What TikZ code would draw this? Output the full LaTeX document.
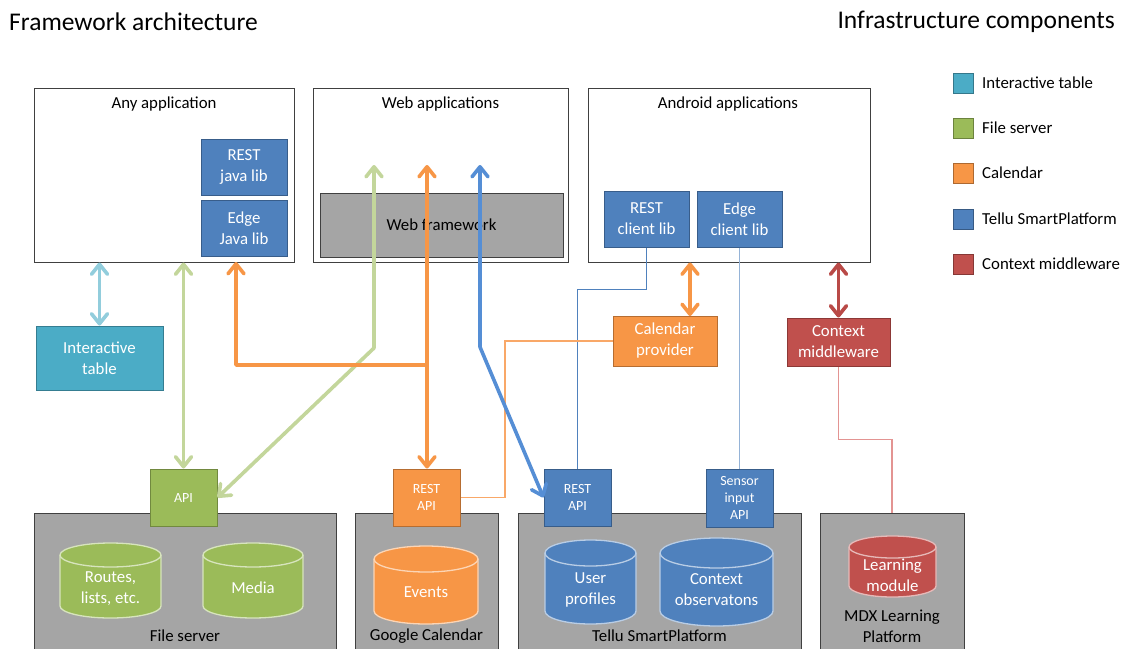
\documentclass[tikz,border=0pt]{standalone}
\usepackage{fontspec}
\setmainfont{Carlito}
\usetikzlibrary{arrows.meta,calc}
\definecolor{tealF}{HTML}{4BACC6}\definecolor{tealD}{HTML}{357D91}
\definecolor{greenF}{HTML}{9BBB59}\definecolor{greenD}{HTML}{71893F}
\definecolor{orangeF}{HTML}{F79646}\definecolor{orangeD}{HTML}{B66D31}
\definecolor{blueF}{HTML}{4F81BD}\definecolor{blueD}{HTML}{385D8A}
\definecolor{redF}{HTML}{C0504D}\definecolor{redD}{HTML}{8C3836}
\definecolor{grayF}{HTML}{A5A5A5}\definecolor{lineD}{HTML}{404040}
\definecolor{arrLB}{HTML}{92CDDC}\definecolor{arrG}{HTML}{C3D69B}
\definecolor{arrO}{HTML}{F79646}\definecolor{arrB}{HTML}{558ED5}
\definecolor{arrR}{HTML}{B94A47}
\definecolor{thinB}{HTML}{4F81BD}\definecolor{thinLB}{HTML}{95B3D7}
\definecolor{thinO}{HTML}{F9A868}\definecolor{thinR}{HTML}{E39492}
\tikzset{
  every node/.style={font=\fontsize{16.8}{21}\selectfont, align=center, inner sep=0pt},
  titletxt/.style={font=\fontsize{25.5}{29}\selectfont},
  smalltxt/.style={font=\fontsize{14}{17}\selectfont},
  appbox/.style={draw=lineD, fill=white, line width=1pt},
  graybox/.style={draw=lineD, fill=grayF, line width=1pt},
  colbox/.style 2 args={fill=#1, draw=#2, line width=1pt, text=white},
  barb/.tip={Straight Barb[length=10pt,width=16pt,round]},
  thick arrow/.style={line width=3.6pt, line join=round, color=#1},
  thin line/.style={line width=1.1pt, color=#1},
  legsq/.style={fill=#1, draw=#1!70!black, line width=0.8pt, minimum width=20pt, minimum height=20pt}
}
\newcommand\mycyl[9]{%
  \pgfmathsetmacro\cylrx{(#3-#2)/2}%
  \path[fill=#7, draw=#7!40!white, line width=1.3pt]
    (#2,#4+#6) -- (#2,#5-#6) arc[start angle=180,end angle=360,x radius=\cylrx pt,y radius=#6pt]
    -- (#3,#4+#6) arc[start angle=0,end angle=180,x radius=\cylrx pt,y radius=#6pt] -- cycle;
  \draw[draw=#7!40!white, line width=1.3pt] (#2,#4+#6) arc[start angle=180,end angle=360,x radius=\cylrx pt,y radius=#6pt];
  \node[text=white] (#1) at ({(#2+#3)/2},#8) {#9};
}
\begin{document}
\begin{tikzpicture}[x=1pt,y=-1pt]
\useasboundingbox (0,0) rectangle (1123,648);
\clip (0,0) rectangle (1123,648);
\fill[white] (0,0) rectangle (1123,648);

% titles
\node[titletxt, anchor=west] (t1) at (9,22) {Framework architecture};
\node[titletxt, anchor=east] (t2) at (1115,22) {Infrastructure components};

% application boxes
\node[appbox, minimum width=260, minimum height=174] (anyapp) at (164,175) {};
\node (anyappl) at (164,104) {Any application};
\node[colbox={blueF}{blueD}, minimum width=86, minimum height=56] (restjava) at (244,167) {REST\\java lib};
\node[colbox={blueF}{blueD}, minimum width=86, minimum height=56] (edgejava) at (244,228) {Edge\\Java lib};

\node[appbox, minimum width=255, minimum height=174] (webapp) at (440.5,175) {};
\node (webappl) at (440.5,104) {Web applications};
\node[graybox, minimum width=243, minimum height=64] (webfw) at (441.5,225) {Web framework};

\node[appbox, minimum width=282, minimum height=174] (android) at (729,175) {};
\node (androidl) at (728,104) {Android applications};
\node[colbox={blueF}{blueD}, minimum width=85, minimum height=56] (restclient) at (646.5,219) {REST\\client lib};
\node[colbox={blueF}{blueD}, minimum width=85, minimum height=56] (edgeclient) at (739.5,219) {Edge\\client lib};

% middle boxes
\node[colbox={tealF}{tealD}, minimum width=127, minimum height=64] (itable) at (99.5,358) {Interactive\\table};
\node[colbox={orangeF}{orangeD}, minimum width=104, minimum height=50] (calprov) at (665,341) {Calendar\\provider};
\node[colbox={redF}{redD}, minimum width=103, minimum height=48] (ctxmw) at (838.5,342) {Context\\middleware};

% legend
\node[legsq=tealF] (lg1) at (963,83) {};
\node[anchor=west] (lt1) at (982,83) {Interactive table};
\node[legsq=greenF] (lg2) at (963,128) {};
\node[anchor=west] (lt2) at (982,128) {File server};
\node[legsq=orangeF] (lg3) at (963,173) {};
\node[anchor=west] (lt3) at (982,173) {Calendar};
\node[legsq=blueF] (lg4) at (963,219) {};
\node[anchor=west] (lt4) at (982,219) {Tellu SmartPlatform};
\node[legsq=redF] (lg5) at (963,264) {};
\node[anchor=west] (lt5) at (982,264) {Context middleware};

% bottom platforms
\node[graybox, minimum width=302, minimum height=160] (fileserver) at (185,593) {};
\node (fileserverl) at (185,636) {File server};
\node[graybox, minimum width=143, minimum height=160] (gcal) at (426.5,593) {};
\node (gcall) at (426.5,636) {Google Calendar};
\node[graybox, minimum width=283, minimum height=160] (tellu) at (659.5,593) {};
\node (tellul) at (659.5,636) {Tellu SmartPlatform};
\node[graybox, minimum width=144, minimum height=160] (mdx) at (892,593) {};
\node (mdxl) at (892,626.5) {MDX Learning\\Platform};

\node[colbox={greenF}{greenD}, minimum width=67, minimum height=57, smalltxt] (apiG) at (183.5,497.5) {API};
\node[colbox={orangeF}{orangeD}, minimum width=67, minimum height=57, smalltxt] (restO) at (426.5,497.5) {REST\\API};
\node[colbox={blueF}{blueD}, minimum width=67, minimum height=57, smalltxt] (restB) at (577.5,497.5) {REST\\API};
\node[colbox={blueF}{blueD}, minimum width=67, minimum height=58, smalltxt] (sensor) at (739.5,498) {Sensor\\input\\API};

% cylinders
\mycyl{routes}{60}{161}{543}{618}{12}{greenF}{588.5}{Routes,\\lists, etc.}
\mycyl{media}{203}{303}{543}{618}{12}{greenF}{588}{Media}
\mycyl{events}{374}{478}{546}{624}{13}{orangeF}{592}{Events}
\mycyl{userprof}{545}{636}{540}{624}{13}{blueF}{589.5}{User\\profiles}
\mycyl{ctxobs}{660}{773}{538}{626}{15}{blueF}{589.5}{Context\\observatons}
\mycyl{learning}{849}{936}{536}{597}{11}{redF}{575.5}{Learning\\module}

% coordinates for connector bends and free ends
\coordinate (gw) at (374,165);
\coordinate (gb) at (374,348);
\coordinate (ow) at (427,165);
\coordinate (oj) at (427,365);
\coordinate (oa) at (236,262);
\coordinate (bw) at (480,165);
\coordinate (bb) at (480,347);
\coordinate (cpn) at (690,316);
\coordinate (ob) at (505,341);

% thin connectors
\draw[thin line=thinB] (restclient.south) -- ++(0,42) -| (restB.north);
\draw[thin line=thinLB] (edgeclient.south) -- (sensor.north);
\draw[thin line=thinO] (calprov.west) -- (ob) |- (restO.east);
\draw[thin line=thinR] (ctxmw.south) -- ++(0,73) -| (mdx.north);

% thick connectors
\draw[thick arrow=arrLB, {barb}-{barb}] (anyapp.south -| itable.north) -- (itable.north);
\draw[thick arrow=arrG, {barb}-{barb}] (anyapp.south -| apiG.north) -- (apiG.north);
\draw[thick arrow=arrG, {barb}-{barb}] (gw) -- (gb) -- (apiG.east);
\draw[thick arrow=arrO, {barb}-{barb}] (ow) -- (ow |- restO.north);
\draw[thick arrow=arrO, -{barb}] (oj) -| (oa);
\draw[thick arrow=arrB, {barb}-{barb}] (bw) -- (bb) -- (restB.west);
\draw[thick arrow=arrO, {barb}-{barb}] (android.south -| cpn) -- (cpn);
\draw[thick arrow=arrR, {barb}-{barb}] (android.south -| ctxmw.north) -- (ctxmw.north);
\end{tikzpicture}
\end{document}
